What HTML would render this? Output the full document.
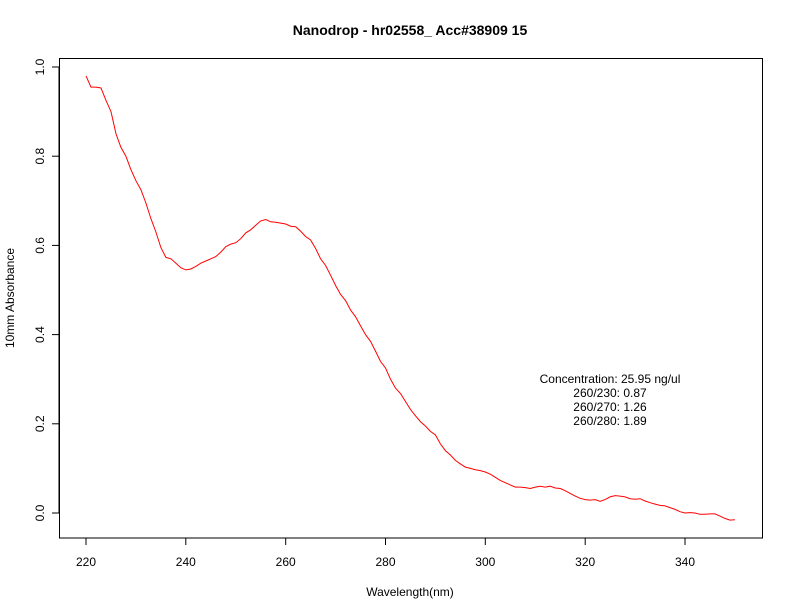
<!DOCTYPE html>
<html><head><meta charset="utf-8"><style>body{margin:0;background:#fff}svg{display:block}text{font-family:"Liberation Sans",sans-serif;font-size:12px;fill:#000}</style></head>
<body>
<svg width="792" height="612" viewBox="0 0 792 612">
<rect x="59.5" y="58.5" width="703" height="479.5" fill="none" stroke="#000" stroke-width="1"/>
<text x="410" y="35" text-anchor="middle" style="font-weight:bold;font-size:14px">Nanodrop - hr02558_ Acc#38909 15</text>
<text x="410" y="596" text-anchor="middle">Wavelength(nm)</text>
<text transform="translate(14,298) rotate(-90)" text-anchor="middle">10mm Absorbance</text>
<g stroke="#000">
<line x1="86" y1="538" x2="685" y2="538"/>
<line x1="86" y1="538" x2="86" y2="545"/><line x1="185.8" y1="538" x2="185.8" y2="545"/><line x1="285.7" y1="538" x2="285.7" y2="545"/><line x1="385.5" y1="538" x2="385.5" y2="545"/><line x1="485.3" y1="538" x2="485.3" y2="545"/><line x1="585.2" y1="538" x2="585.2" y2="545"/><line x1="685" y1="538" x2="685" y2="545"/>
<line x1="59" y1="513" x2="59" y2="67"/>
<line x1="52" y1="513" x2="59" y2="513"/><line x1="52" y1="423.8" x2="59" y2="423.8"/><line x1="52" y1="334.6" x2="59" y2="334.6"/><line x1="52" y1="245.4" x2="59" y2="245.4"/><line x1="52" y1="156.2" x2="59" y2="156.2"/><line x1="52" y1="67" x2="59" y2="67"/>
</g>
<g text-anchor="middle">
<text x="86" y="566">220</text><text x="185.8" y="566">240</text><text x="285.7" y="566">260</text><text x="385.5" y="566">280</text><text x="485.3" y="566">300</text><text x="585.2" y="566">320</text><text x="685" y="566">340</text>
<text transform="translate(44,513) rotate(-90)">0.0</text>
<text transform="translate(44,423.8) rotate(-90)">0.2</text>
<text transform="translate(44,334.6) rotate(-90)">0.4</text>
<text transform="translate(44,245.4) rotate(-90)">0.6</text>
<text transform="translate(44,156.2) rotate(-90)">0.8</text>
<text transform="translate(44,67) rotate(-90)">1.0</text>
<text x="610" y="383">Concentration: 25.95 ng/ul</text>
<text x="610" y="397">260/230: 0.87</text>
<text x="610" y="411">260/270: 1.26</text>
<text x="610" y="425">260/280: 1.89</text>
</g>
<polyline id="c" fill="none" stroke="#f00" stroke-width="1" points=""/>
</svg>
<script>
var d=[0.98,0.955,0.955,0.953,0.925,0.9,0.85,0.82,0.80,0.77,0.745,0.725,0.695,0.66,0.63,0.595,0.573,0.57,0.56,0.55,0.545,0.547,0.553,0.56,0.565,0.57,0.575,0.585,0.597,0.603,0.606,0.615,0.628,0.635,0.645,0.655,0.658,0.653,0.652,0.65,0.648,0.643,0.642,0.632,0.62,0.612,0.593,0.57,0.555,0.533,0.51,0.49,0.476,0.455,0.44,0.42,0.4,0.385,0.363,0.34,0.325,0.3,0.28,0.268,0.25,0.232,0.218,0.205,0.195,0.183,0.175,0.155,0.14,0.13,0.118,0.11,0.103,0.1,0.097,0.095,0.092,0.087,0.08,0.073,0.068,0.063,0.058,0.058,0.057,0.055,0.058,0.06,0.058,0.06,0.056,0.055,0.05,0.044,0.038,0.033,0.03,0.029,0.03,0.026,0.03,0.036,0.039,0.038,0.036,0.032,0.031,0.032,0.027,0.023,0.02,0.017,0.016,0.012,0.008,0.003,0.0,0.001,0.0,-0.003,-0.003,-0.002,-0.002,-0.007,-0.012,-0.016,-0.015];
var p=d.map(function(a,i){return (86+i*4.9917).toFixed(1)+","+(513-a*446).toFixed(1)}).join(" ");
document.getElementById("c").setAttribute("points",p);
</script>
</body></html>
